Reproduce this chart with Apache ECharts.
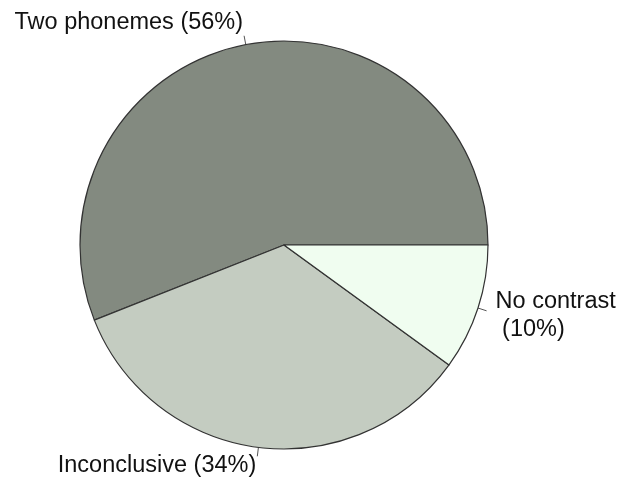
<!DOCTYPE html>
<html><head><meta charset="utf-8">
<script src="https://cdn.jsdelivr.net/npm/echarts@6/dist/echarts.min.js"></script>
<style>html,body{margin:0;padding:0;background:#fff}#c{width:619px;height:480px}</style>
</head><body><div id="c"></div>
<script>
const categories = ["Two phonemes", "Inconclusive", "No contrast"];
const values = [56, 34, 10];
const labelTexts = ["Two phonemes (56%)", "Inconclusive (34%)", "No contrast\n (10%)"];
const colors = ["#838a80", "#c4ccc1", "#f0fdf0"];

const chart = echarts.init(document.getElementById('c'), null, {renderer: 'canvas'});
chart.setOption({
  animation: false,
  backgroundColor: '#ffffff',
  series: [{
    type: 'pie',
    center: [284, 245],
    radius: [0, 204],
    startAngle: 0,
    clockwise: false,
    avoidLabelOverlap: false,
    data: categories.map((c, i) => ({name: c, value: values[i], itemStyle: {color: colors[i]}})),
    itemStyle: {borderColor: '#333', borderWidth: 1.2},
    label: {
      show: true,
      position: 'outside',
      formatter: p => labelTexts[p.dataIndex],
      fontFamily: 'Liberation Sans, Arial, sans-serif',
      fontSize: 23.5,
      color: '#111',
      lineHeight: 28,
      distanceToLabelLine: 1
    },
    labelLine: {show: true, length: 9, length2: 0, lineStyle: {color: '#555', width: 1}},
    labelLayout: function (p) {
      if (p.dataIndex === 0) return {verticalAlign: 'bottom', dy: 1};
      if (p.dataIndex === 1) return {verticalAlign: 'top', dy: -5};
      return {dx: 8, dy: 5};
    },
    emphasis: {disabled: true}
  }]
});
</script></body></html>
